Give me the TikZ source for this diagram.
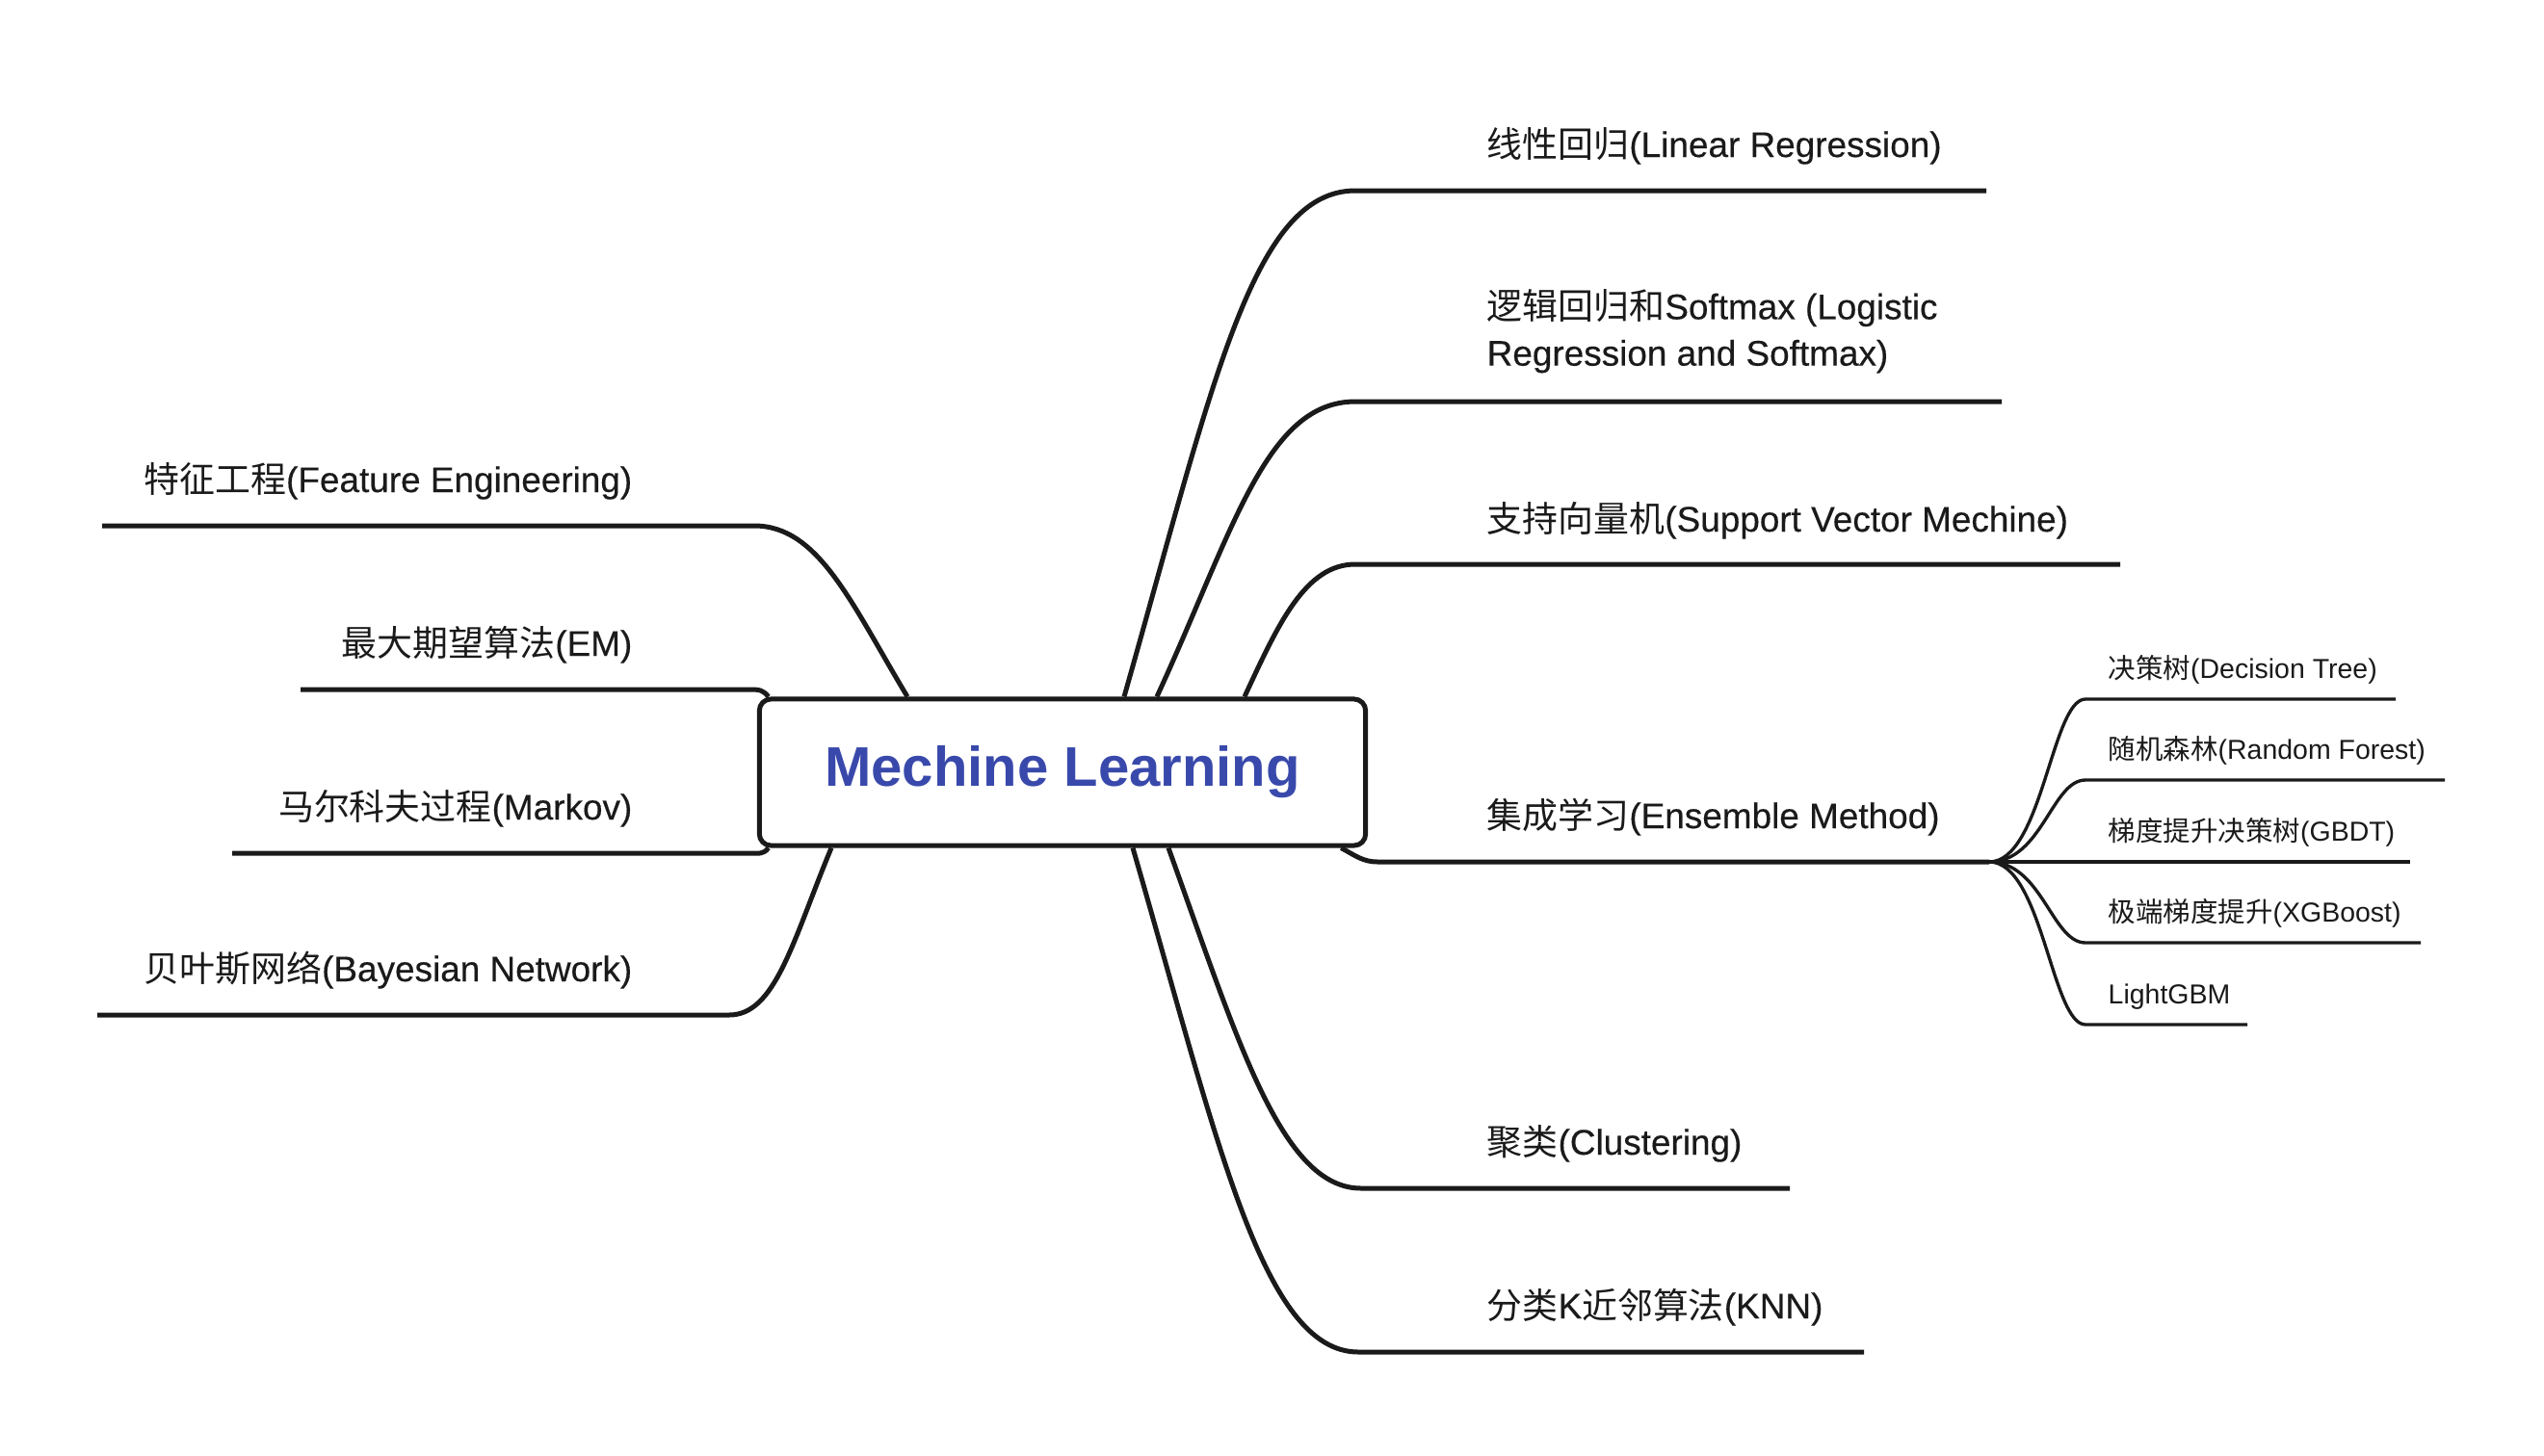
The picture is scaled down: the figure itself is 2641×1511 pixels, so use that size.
\documentclass[tikz,border=0pt]{standalone}
\usepackage{fontspec}
\setmainfont{Liberation Sans}
\newfontfamily\mdfont{Liberation Sans}[FakeBold=0.35]
\newfontfamily\zh{Noto Sans CJK SC}

\definecolor{mlblue}{HTML}{3949AB}
\definecolor{mlink}{HTML}{1A1A1A}

\begin{document}
\begin{tikzpicture}[x=0.01cm, y=-0.01cm,
    branch/.style={draw=mlink, line width=1.42pt},
    subbranch/.style={draw=mlink, line width=0.95pt},
    topic/.style={inner sep=0pt, text=mlink, font=\mdfont\fontsize{10.5}{13.7}\selectfont},
    subtopic/.style={inner sep=0pt, text=mlink, font=\fontsize{8.1}{10}\selectfont}]
\useasboundingbox (0,0) rectangle (2641,1511);

\node[draw=mlink, line width=1.42pt, rounded corners=0.12cm, minimum width=6.29cm, minimum height=1.52cm, inner sep=0pt, text=mlblue, font=\fontsize{16.5}{20}\selectfont\bfseries] (ml) at (1103,802) {Mechine Learning};

% right side
\coordinate (lr-end) at (2062,198);
\coordinate (lg-end) at (2078,417);
\coordinate (svm-end) at (2201,586);
\coordinate (ens-j) at (2065,895);
\coordinate (clu-end) at (1858,1234);
\coordinate (knn-end) at (1935,1404);

\node[topic, anchor=base west] (lr) at (1543,163) {{\zh 线性回归}(Linear Regression)};
\node[topic, anchor=south west, align=left] (lg) at (1543,388) {{\zh 逻辑回归和}Softmax (Logistic\\Regression and Softmax)};
\node[topic, anchor=base west] (svm) at (1543,552) {{\zh 支持向量机}(Support Vector Mechine)};
\node[topic, anchor=base west] (ens) at (1543,860) {{\zh 集成学习}(Ensemble Method)};
\node[topic, anchor=base west] (clu) at (1543,1199) {{\zh 聚类}(Clustering)};
\node[topic, anchor=base west] (knn) at (1543,1369) {{\zh 分类}K{\zh 近邻算法}(KNN)};

\draw[branch] ([shift={(64,0)}]ml.north) .. controls (1259,400) and (1300,198) .. (1407,198) -- (lr-end);
\draw[branch] ([shift={(98,0)}]ml.north) .. controls (1280,552) and (1314,417) .. (1407,417) -- (lg-end);
\draw[branch] ([shift={(189,0)}]ml.north) .. controls (1327,648) and (1355,586) .. (1407,586) -- (svm-end);
\draw[branch] ([shift={(-28,0)}]ml.south east) .. controls +(15,8) and +(-15,0) .. (1430,895) -- (ens-j);
\draw[branch] ([shift={(110,0)}]ml.south) .. controls (1285,1080) and (1330,1234) .. (1413,1234) -- (clu-end);
\draw[branch] ([shift={(73,0)}]ml.south) .. controls (1263,1180) and (1310,1404) .. (1410,1404) -- (knn-end);

% ensemble sub branches
\coordinate (dt-end) at (2487,726);
\coordinate (rf-end) at (2538,810);
\coordinate (gbdt-end) at (2502,895);
\coordinate (xgb-end) at (2513,979);
\coordinate (lgbm-end) at (2333,1064);

\node[subtopic, anchor=base west] (dt) at (2188,704) {{\zh 决策树}(Decision Tree)};
\node[subtopic, anchor=base west] (rf) at (2188,788) {{\zh 随机森林}(Random Forest)};
\node[subtopic, anchor=base west] (gbdt) at (2188,873) {{\zh 梯度提升决策树}(GBDT)};
\node[subtopic, anchor=base west] (xgb) at (2188,957) {{\zh 极端梯度提升}(XGBoost)};
\node[subtopic, anchor=base west] (lgbm) at (2188,1042) {LightGBM};

\draw[subbranch] (ens-j) .. controls +(55,0) and +(-35,0) .. (2165,726) -- (dt-end);
\draw[subbranch] (ens-j) .. controls +(55,0) and +(-35,0) .. (2165,810) -- (rf-end);
\draw[subbranch] (ens-j) -- (gbdt-end);
\draw[subbranch] (ens-j) .. controls +(55,0) and +(-35,0) .. (2165,979) -- (xgb-end);
\draw[subbranch] (ens-j) .. controls +(55,0) and +(-35,0) .. (2165,1064) -- (lgbm-end);

% left side
\coordinate (fe-end) at (106,546);
\coordinate (em-end) at (312,716);
\coordinate (mk-end) at (241,886);
\coordinate (bn-end) at (101,1054);

\node[topic, anchor=base east] (fe) at (657,511) {{\zh 特征工程}(Feature Engineering)};
\node[topic, anchor=base east] (em) at (657,681) {{\zh 最大期望算法}(EM)};
\node[topic, anchor=base east] (mk) at (657,851) {{\zh 马尔科夫过程}(Markov)};
\node[topic, anchor=base east] (bn) at (657,1019) {{\zh 贝叶斯网络}(Bayesian Network)};

\draw[branch] ([shift={(-161,0)}]ml.north) .. controls (884,627) and (850,546) .. (783,546) -- (fe-end);
\draw[branch] ([shift={(12,0)}]ml.north west) .. controls +(-6,-7) and +(12,0) .. (777,716) -- (em-end);
\draw[branch] ([shift={(12,0)}]ml.south west) .. controls +(-6,7) and +(12,0) .. (777,886) -- (mk-end);
\draw[branch] ([shift={(-240,0)}]ml.south) .. controls (823,977) and (805,1054) .. (757,1054) -- (bn-end);
\end{tikzpicture}
\end{document}
